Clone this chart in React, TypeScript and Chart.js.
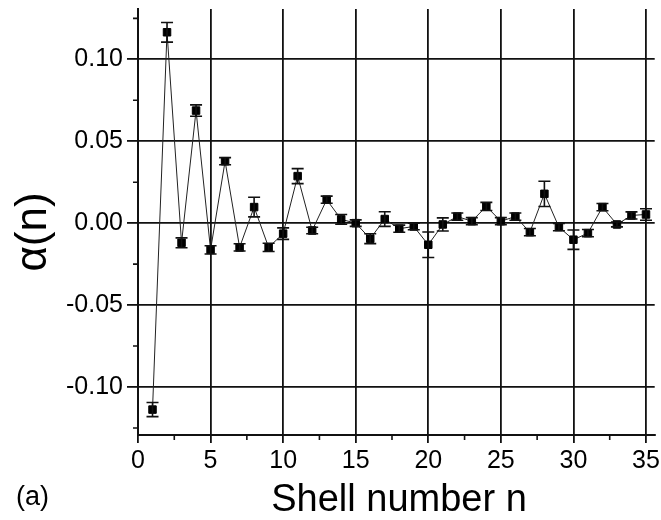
import React, { useEffect, useRef } from "react";
import { Chart, registerables } from "chart.js";

Chart.register(...registerables);

const shellNumbers: number[] = [
  1, 2, 3, 4, 5, 6, 7, 8, 9, 10, 11, 12, 13, 14, 15, 16, 17, 18, 19, 20,
  21, 22, 23, 24, 25, 26, 27, 28, 29, 30, 31, 32, 33, 34, 35,
];

const alphaValues: number[] = [
  -0.1138, 0.1165, -0.012, 0.0687, -0.0163, 0.0378, -0.0148, 0.0098, -0.0148, -0.0064,
  0.0287, -0.0045, 0.0143, 0.0023, 0.0, -0.0095, 0.0025, -0.0034, -0.002, -0.0132,
  -0.0008, 0.004, 0.0012, 0.0102, 0.0012, 0.004, -0.0055, 0.0179, -0.0024, -0.0101,
  -0.0061, 0.0098, -0.0008, 0.0047, 0.0053,
];

const alphaErrors: number[] = [
  0.0043, 0.006, 0.003, 0.0035, 0.0025, 0.0022, 0.0022, 0.006, 0.0025, 0.0035,
  0.0046, 0.002, 0.0022, 0.003, 0.002, 0.003, 0.0045, 0.0022, 0.002, 0.0078,
  0.004, 0.0022, 0.0022, 0.0025, 0.0022, 0.0022, 0.0022, 0.0077, 0.0022, 0.0059,
  0.0022, 0.0022, 0.0015, 0.0022, 0.0035,
];

const xMinorTicks: number[] = [2.5, 7.5, 12.5, 17.5, 22.5, 27.5, 32.5];
const yMinorTicks: number[] = [-0.125, -0.075, -0.025, 0.025, 0.075, 0.125];

const xTitle = "Shell number n";
const yTitle = "α(n)";
const panelLabel = "(a)";

const FONT = "'Liberation Sans', Arial, sans-serif";

const errorBarPlugin = {
  id: "errorBars",
  afterDatasetsDraw(chart: any) {
    const ctx = chart.ctx;
    const xs = chart.scales.x;
    const ys = chart.scales.y;
    ctx.save();
    ctx.strokeStyle = "#111";
    ctx.lineWidth = 1.6;
    const cap = 6;
    shellNumbers.forEach((n, i) => {
      const px = xs.getPixelForValue(n);
      const top = ys.getPixelForValue(alphaValues[i] + alphaErrors[i]);
      const bot = ys.getPixelForValue(alphaValues[i] - alphaErrors[i]);
      ctx.beginPath();
      ctx.moveTo(px, top);
      ctx.lineTo(px, bot);
      ctx.moveTo(px - cap, top);
      ctx.lineTo(px + cap, top);
      ctx.moveTo(px - cap, bot);
      ctx.lineTo(px + cap, bot);
      ctx.stroke();
    });
    ctx.restore();
  },
};

const decorPlugin = {
  id: "decor",
  afterDraw(chart: any) {
    const ctx = chart.ctx;
    const xs = chart.scales.x;
    const ys = chart.scales.y;
    const area = chart.chartArea;
    ctx.save();
    ctx.strokeStyle = "#111";
    ctx.lineWidth = 1.6;
    ctx.beginPath();
    xMinorTicks.forEach((v) => {
      const px = xs.getPixelForValue(v);
      ctx.moveTo(px, area.bottom);
      ctx.lineTo(px, area.bottom + 5);
    });
    yMinorTicks.forEach((v) => {
      const py = ys.getPixelForValue(v);
      ctx.moveTo(area.left - 5, py);
      ctx.lineTo(area.left, py);
    });
    ctx.stroke();

    ctx.fillStyle = "#000";
    // y title
    ctx.save();
    ctx.translate(46, 232);
    ctx.rotate(-Math.PI / 2);
    ctx.font = `44px ${FONT}`;
    ctx.textAlign = "center";
    ctx.textBaseline = "alphabetic";
    ctx.fillText(yTitle, 0, 0);
    ctx.restore();
    // x title
    ctx.font = `38px ${FONT}`;
    ctx.textAlign = "center";
    ctx.textBaseline = "alphabetic";
    ctx.fillText(xTitle, 399, 511);
    // panel label
    ctx.font = `27px ${FONT}`;
    ctx.textAlign = "left";
    ctx.fillText(panelLabel, 16, 505);
    ctx.restore();
  },
};

export default function App() {
  const canvasRef = useRef<HTMLCanvasElement | null>(null);

  useEffect(() => {
    document.body.style.margin = "0";
    const canvas = canvasRef.current;
    if (!canvas) return;
    const chart = new Chart(canvas, {
      type: "line",
      data: {
        datasets: [
          {
            data: shellNumbers.map((n, i) => ({ x: n, y: alphaValues[i] })),
            borderColor: "#222",
            borderWidth: 1,
            pointStyle: "rect",
            pointRadius: 5.3,
            pointBackgroundColor: "#000",
            pointBorderColor: "#000",
            pointBorderWidth: 1,
            tension: 0,
            fill: false,
          },
        ],
      },
      options: {
        animation: false,
        responsive: false,
        events: [],
        layout: { padding: { left: 0, top: 9, right: 5, bottom: 0 } },
        plugins: {
          legend: { display: false },
          tooltip: { enabled: false },
        },
        scales: {
          x: {
            type: "linear",
            min: 0,
            max: 35.6,
            afterFit: (scale: any) => {
              scale.height = 85;
              scale.paddingLeft = 0;
              scale.paddingRight = 0;
            },
            border: { display: true, color: "#111", width: 2 },
            grid: {
              color: "#111",
              lineWidth: 1.8,
              drawTicks: true,
              tickLength: 8,
              tickColor: "#111",
              tickWidth: 1.8,
            },
            ticks: {
              stepSize: 5,
              includeBounds: false,
              color: "#000",
              padding: 3,
              maxRotation: 0,
              font: { family: FONT, size: 25 },
              callback: (v: any) => String(v),
            },
          },
          y: {
            type: "linear",
            min: -0.1293,
            max: 0.1307,
            afterFit: (scale: any) => {
              scale.width = 138;
              scale.paddingTop = 0;
              scale.paddingBottom = 0;
            },
            border: { display: true, color: "#111", width: 2 },
            grid: {
              color: "#111",
              lineWidth: 1.8,
              drawTicks: true,
              tickLength: 11,
              tickColor: "#111",
              tickWidth: 1.8,
            },
            ticks: {
              stepSize: 0.05,
              includeBounds: false,
              color: "#000",
              padding: 4,
              font: { family: FONT, size: 25 },
              callback: (v: any) => Number(v).toFixed(2),
            },
          },
        },
      },
      plugins: [errorBarPlugin, decorPlugin],
    });
    return () => chart.destroy();
  }, []);

  return <canvas ref={canvasRef} width={661} height={520} style={{ display: "block" }} />;
}
